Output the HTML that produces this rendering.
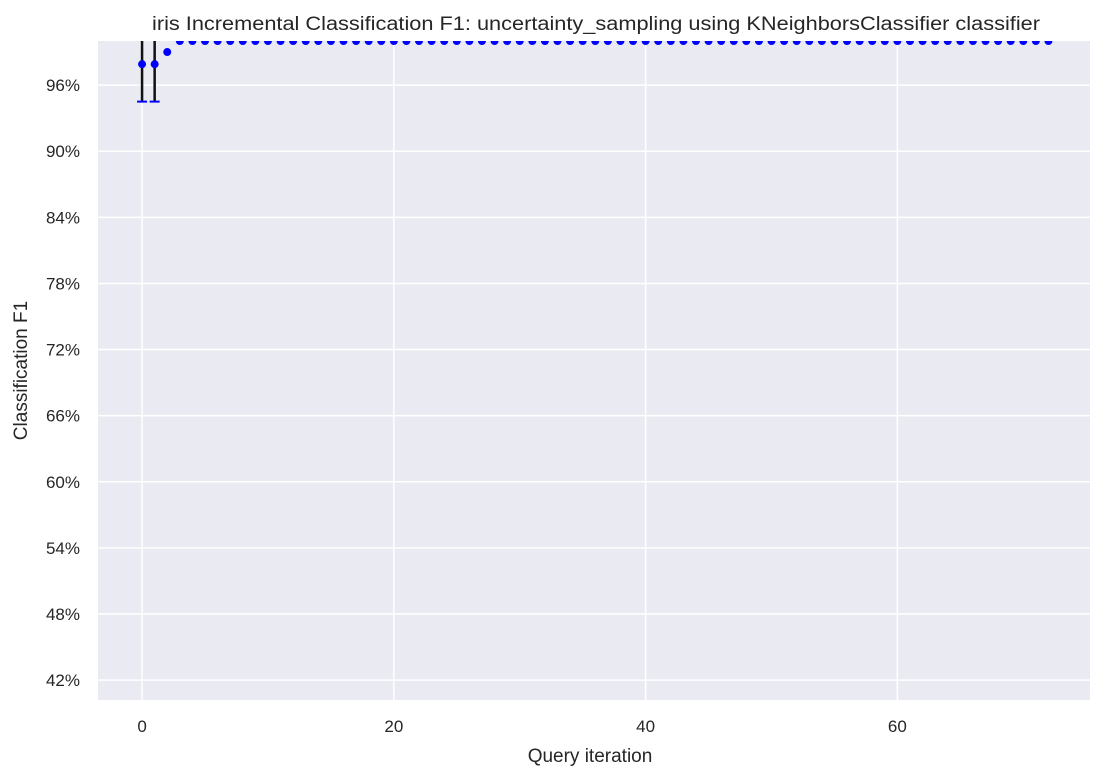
<!DOCTYPE html>
<html><head><meta charset="utf-8"><style>
body{margin:0;background:#fff;font-family:"Liberation Sans",Arial,sans-serif}
</style></head><body>
<svg id="c" width="1104" height="779" xmlns="http://www.w3.org/2000/svg"></svg>
<script>
const xTicks=[0,20,40,60];
const yTicks=[0.42,0.48,0.54,0.60,0.66,0.72,0.78,0.84,0.90,0.96];
const yLabels=["42%","48%","54%","60%","66%","72%","78%","84%","90%","96%"];
const iterations=Array.from({length:73},(_,i)=>i);
const f1Values=[0.979,0.979,0.99].concat(Array(70).fill(1.0));
const errLow=[0.945,0.945,0.99].concat(Array(70).fill(1.0));
const errHigh=[1.013,1.013,0.99].concat(Array(70).fill(1.0));
const L=98,R=1090,T=41,B=700;
const xMin=-3.5,xMax=75.3,yMin=0.402,yMax=1.0;
const X=v=>L+(v-xMin)/(xMax-xMin)*(R-L);
const Y=v=>B-(v-yMin)/(yMax-yMin)*(B-T);
const s=document.getElementById('c');const NS="http://www.w3.org/2000/svg";
function mk(t,a,p){const e=document.createElementNS(NS,t);for(const k in a)e.setAttribute(k,a[k]);(p||s).appendChild(e);return e;}
let e=mk('rect',{x:L,y:T,width:R-L,height:B-T,fill:'#eaeaf2'});

mk('clipPath',{id:'cp'});mk('rect',{x:L,y:T,width:R-L,height:B-T},s.lastChild);
const g=mk('g',{'clip-path':'url(#cp)'});
xTicks.forEach(v=>{e=mk('line',{x1:X(v),x2:X(v),y1:T,y2:B,stroke:'#fff','stroke-width':1.5},g);

e=mk('text',{x:X(v),y:B+32,'text-anchor':'middle','font-size':17,fill:'#262626'});e.textContent=v;
});
yTicks.forEach((v,i)=>{e=mk('line',{x1:L,x2:R,y1:Y(v),y2:Y(v),stroke:'#fff','stroke-width':1.5},g);

e=mk('text',{x:L-18,y:Y(v)+6,'text-anchor':'end','font-size':17,fill:'#262626'});e.textContent=yLabels[i];
});
iterations.forEach((it,i)=>{
 if(errHigh[i]-errLow[i]>0.001){
  e=mk('line',{x1:X(it),x2:X(it),y1:Y(errLow[i]),y2:Y(errHigh[i]),stroke:'#111','stroke-width':2.5},g);
  
  e=mk('line',{x1:X(it)-5,x2:X(it)+5,y1:Y(errLow[i]),y2:Y(errLow[i]),stroke:'#00f','stroke-width':2},g);
  
 }
 e=mk('circle',{cx:X(it),cy:Y(f1Values[i]),r:4,fill:'#00f'},g);
 
});
e=mk('text',{x:(L+R)/2+2,y:30,'text-anchor':'middle','font-size':19,fill:'#262626',textLength:888,lengthAdjust:'spacingAndGlyphs'});
e.textContent='iris Incremental Classification F1: uncertainty_sampling using KNeighborsClassifier classifier';

e=mk('text',{x:(L+R)/2-4,y:762,'text-anchor':'middle','font-size':19,fill:'#262626'});e.textContent='Query iteration';

e=mk('text',{x:27,y:(T+B)/2,'text-anchor':'middle','font-size':19,fill:'#262626',transform:`rotate(-90 27 ${(T+B)/2})`});e.textContent='Classification F1';

</script></body></html>
